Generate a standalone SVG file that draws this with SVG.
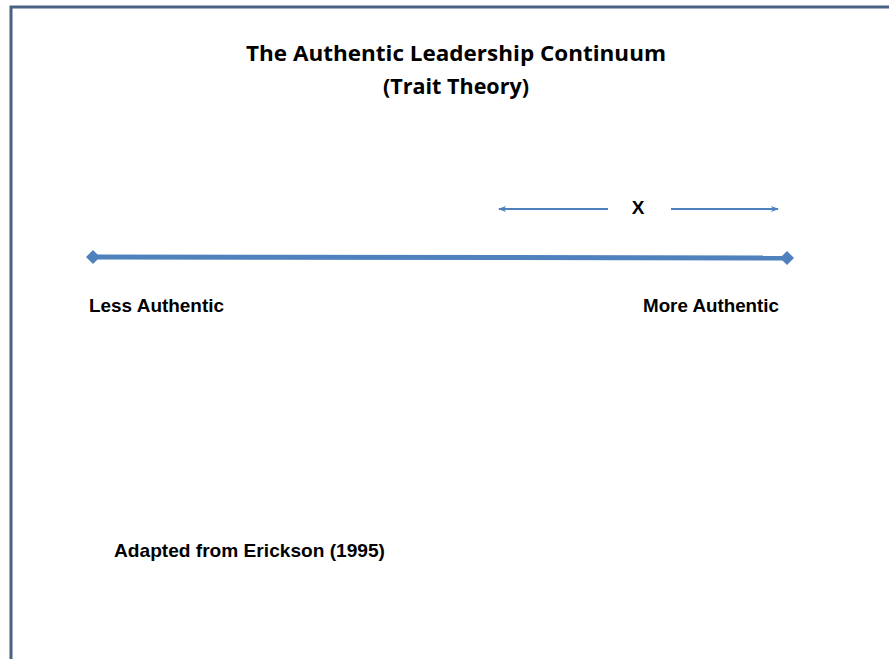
<svg xmlns="http://www.w3.org/2000/svg" width="889" height="659" viewBox="0 0 889 659">
<defs>
<style>
.title{font-family:"Open Sans","Liberation Sans",sans-serif;font-weight:bold;font-size:22px;fill:#000;}
.lbl{font-family:"Liberation Sans",Arial,sans-serif;font-weight:bold;font-size:18px;fill:#000;}
.src{font-family:"Liberation Sans",Arial,sans-serif;font-weight:bold;font-size:19px;fill:#000;}
.thin{stroke:#4f81bd;stroke-width:2;fill:none;}
.thick{stroke:#4f81bd;stroke-width:5;fill:none;}
</style>
<marker id="ah" markerWidth="8" markerHeight="8" refX="7" refY="4" orient="auto" markerUnits="userSpaceOnUse">
<path d="M0,1 L8,4 L0,7 L2,4 Z" fill="#4f81bd"/>
</marker>
</defs>
<rect x="0" y="0" width="889" height="659" fill="#fff"/>
<path d="M11,659 L11,7 L889,7" fill="none" stroke="#4a6283" stroke-width="3"/>
<g id="title">
<text class="title" x="456" y="61" text-anchor="middle" textLength="420" lengthAdjust="spacingAndGlyphs">The Authentic Leadership Continuum</text>
<text class="title" x="456" y="94" text-anchor="middle" textLength="146" lengthAdjust="spacingAndGlyphs">(Trait Theory)</text>
</g>
<g id="connectors">
<line class="thin" x1="608" y1="209" x2="499" y2="209" marker-end="url(#ah)"/>
<line class="thin" x1="671" y1="209" x2="778" y2="209" marker-end="url(#ah)"/>
<line class="thick" x1="93" y1="257" x2="787" y2="258"/>
<path d="M93,250 L100,257 L93,264 L86,257 Z" fill="#4f81bd"/>
<path d="M787,251 L794,258 L787,265 L780,258 Z" fill="#4f81bd"/>
</g>
<g id="marker-x">
<text class="src" x="638" y="214" text-anchor="middle" font-size="22">X</text>
</g>
<g id="less">
<text class="lbl" x="89" y="312" textLength="135" lengthAdjust="spacingAndGlyphs">Less Authentic</text>
</g>
<g id="more">
<text class="lbl" x="643" y="312" textLength="136" lengthAdjust="spacingAndGlyphs">More Authentic</text>
</g>
<g id="source">
<text class="src" x="114" y="557" textLength="271" lengthAdjust="spacingAndGlyphs">Adapted from Erickson (1995)</text>
</g>
</svg>
